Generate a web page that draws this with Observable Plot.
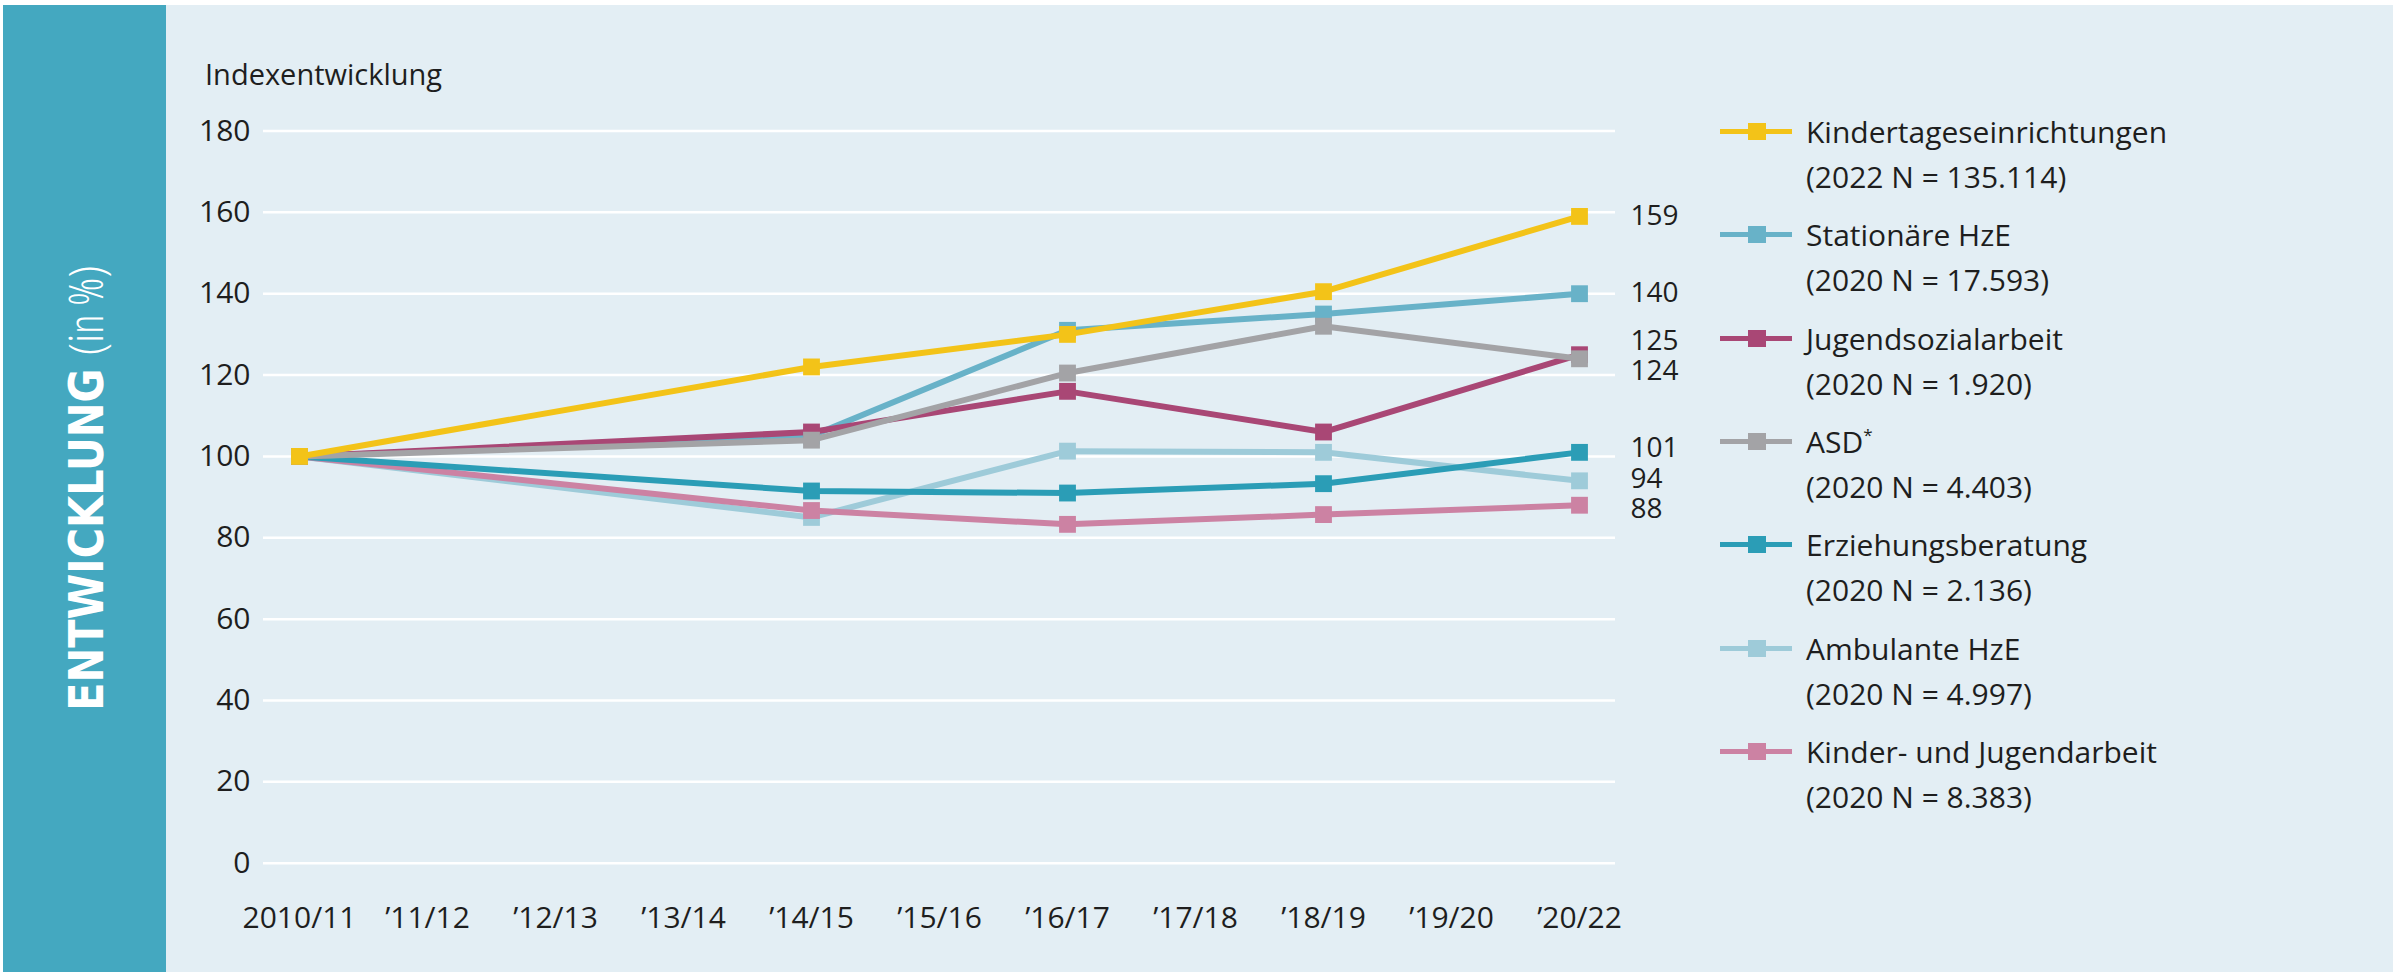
<!DOCTYPE html>
<html>
<head>
<meta charset="utf-8">
<script src="https://cdn.jsdelivr.net/npm/d3@7"></script>
<script src="https://cdn.jsdelivr.net/npm/@observablehq/plot@0.6"></script>
<style>
  html, body { margin: 0; padding: 0; background: #ffffff; }
  #page { position: relative; width: 2402px; height: 972px; overflow: hidden; background: #ffffff; font-family: "Open Sans", "Noto Sans", sans-serif; color: #1e1e1e; }
  #side { position: absolute; left: 3px; top: 5px; width: 163px; height: 967px; background: #44a8c0; }
  #sideText { position: absolute; left: 85px; top: 488px; transform: translate(-50%, -50%) rotate(-90deg) scaleX(0.96); white-space: nowrap; color: #ffffff; font-family: "Liberation Sans Narrow", "DejaVu Sans Condensed", sans-serif; font-stretch: condensed; font-size: 48px; line-height: 1; }
  #sideText b { font-weight: 700; }
  #sideText span { font-family: "Open Sans", "DejaVu Sans Condensed", sans-serif; font-weight: 300; font-stretch: 75%; }
  #main { position: absolute; left: 166px; top: 5px; width: 2227px; height: 967px; background: #e3eef4; }
  #chart { position: absolute; left: 166px; top: 0px; }
  #ytitle { position: absolute; left: 205px; top: 53px; font-size: 29px; line-height: 42px; }
  #legend { position: absolute; left: 1720px; top: 0px; }
  .item { position: absolute; left: 0; width: 640px; }
  .sw { position: absolute; left: 0; top: 20px; width: 72px; height: 5px; }
  .sq { position: absolute; left: 28px; top: 14px; width: 18px; height: 17px; }
  .lbl { position: absolute; left: 86px; top: 0; font-size: 30px; line-height: 45px; white-space: nowrap; }
  .lbl sup { font-size: 17px; vertical-align: 12px; line-height: 0; }
</style>
</head>
<body>
<div id="page">
  <div id="side"></div>
  <div id="sideText"><b>ENTWICKLUNG</b> <span>(in %)</span></div>
  <div id="main"></div>
  <div id="ytitle">Indexentwicklung</div>
  <div id="chart"></div>
  <div id="legend"></div>
</div>
<script>
// ---- data ----
const categories = ["2010/11", "’11/12", "’12/13", "’13/14", "’14/15", "’15/16", "’16/17", "’17/18", "’18/19", "’19/20", "’20/22"];
const measuredPeriods = ["2010/11", "’14/15", "’16/17", "’18/19", "’20/22"];
const yTicks = [0, 20, 40, 60, 80, 100, 120, 140, 160, 180];

const seriesNames = ["Kindertageseinrichtungen", "Stationäre HzE", "Jugendsozialarbeit", "ASD", "Erziehungsberatung", "Ambulante HzE", "Kinder- und Jugendarbeit"];
const seriesNotes = ["(2022 N = 135.114)", "(2020 N = 17.593)", "(2020 N = 1.920)", "(2020 N = 4.403)", "(2020 N = 2.136)", "(2020 N = 4.997)", "(2020 N = 8.383)"];
const seriesColors = ["#f3c318", "#68b2c8", "#a94775", "#a3a3a6", "#2b9db6", "#9ecbd9", "#cc82a3"];

const kita         = [100, 122,   130,   140.5, 159];
const stationaer   = [100, 105,   131,   135,   140];
const jugendsozial = [100, 106,   116,   106,   125];
const asd          = [100, 104,   120.5, 132,   124];
const erziehung    = [100, 91.5,  91,    93.3,  101];
const ambulant     = [100, 85,    101.3, 101,   94];
const kinderJugend = [100, 86.7,  83.3,  85.7,  88];

const seriesValues = [kita, stationaer, jugendsozial, asd, erziehung, ambulant, kinderJugend];
// drawing order (bottom to top)
const drawOrder = ["Ambulante HzE", "Kinder- und Jugendarbeit", "Erziehungsberatung", "Stationäre HzE", "Jugendsozialarbeit", "ASD", "Kindertageseinrichtungen"];

// ---- build rows ----
const rows = [];
seriesNames.forEach((name, i) => {
  seriesValues[i].forEach((v, j) => rows.push({series: name, period: measuredPeriods[j], value: v}));
});

// end labels with simple vertical repel (in data units)
const lastPeriod = measuredPeriods[measuredPeriods.length - 1];
const ends = seriesNames.map((name, i) => ({series: name, period: lastPeriod, value: seriesValues[i][seriesValues[i].length - 1]}))
  .sort((a, b) => b.value - a.value);
ends.forEach(d => { d.labelY = d.value; d.label = String(Math.round(d.value)); });
const minGap = 7.5;
let clusters = ends.map(d => ({items: [d], center: d.value}));
let changed = true;
while (changed) {
  changed = false;
  for (let k = 0; k < clusters.length - 1; k++) {
    const a = clusters[k], b = clusters[k + 1];
    const aBottom = a.center - (a.items.length - 1) * minGap / 2;
    const bTop = b.center + (b.items.length - 1) * minGap / 2;
    if (aBottom - bTop < minGap) {
      const items = a.items.concat(b.items);
      const center = d3.mean(items, d => d.value);
      clusters.splice(k, 2, {items, center});
      changed = true;
      break;
    }
  }
}
clusters.forEach(c => c.items.forEach((d, idx) => { d.labelY = c.center + ((c.items.length - 1) / 2 - idx) * minGap; }));

// ---- chart ----
const seriesMarks = drawOrder.flatMap(name => {
  const data = rows.filter(d => d.series === name);
  return [
    Plot.line(data, {x: "period", y: "value", stroke: "series", strokeWidth: 6}),
    Plot.dot(data, {x: "period", y: "value", fill: "series", symbol: "square", r: 9.5})
  ];
});

const chart = Plot.plot({
  width: 1560,
  height: 972,
  marginLeft: 97,
  marginRight: 111,
  marginTop: 130.5,
  marginBottom: 109.3,
  style: {background: "transparent", fontFamily: "'Open Sans', 'Noto Sans', sans-serif", fontSize: "30px", color: "#1e1e1e", overflow: "visible"},
  x: {type: "point", domain: categories, padding: 0.28, label: null},
  y: {domain: [0, 180], label: null},
  color: {domain: seriesNames, range: seriesColors},
  marks: [
    Plot.ruleY(yTicks, {stroke: "#ffffff", strokeWidth: 2.5}),
    Plot.axisY(yTicks, {tickSize: 0, tickPadding: 13, fontSize: 30, label: null}),
    Plot.axisX({tickSize: 0, tickPadding: 43, fontSize: 30, label: null}),
    ...seriesMarks,
    Plot.text(ends, {x: "period", y: "labelY", text: "label", textAnchor: "start", dx: 51, fontSize: 28, lineHeight: 0.9, fill: "#1e1e1e"})
  ]
});
document.getElementById("chart").appendChild(chart);

// ---- legend ----
const legend = document.getElementById("legend");
seriesNames.forEach((name, i) => {
  const item = document.createElement("div");
  item.className = "item";
  item.style.top = (109 + i * 103.3) + "px";
  const sw = document.createElement("div");
  sw.className = "sw";
  sw.style.background = seriesColors[i];
  const sq = document.createElement("div");
  sq.className = "sq";
  sq.style.background = seriesColors[i];
  const lbl = document.createElement("div");
  lbl.className = "lbl";
  const first = document.createElement("div");
  first.textContent = name;
  if (name === "ASD") {
    const sup = document.createElement("sup");
    sup.textContent = "*";
    first.appendChild(sup);
  }
  const second = document.createElement("div");
  second.textContent = seriesNotes[i];
  lbl.appendChild(first);
  lbl.appendChild(second);
  item.appendChild(sw);
  item.appendChild(sq);
  item.appendChild(lbl);
  legend.appendChild(item);
});
</script>
</body>
</html>
